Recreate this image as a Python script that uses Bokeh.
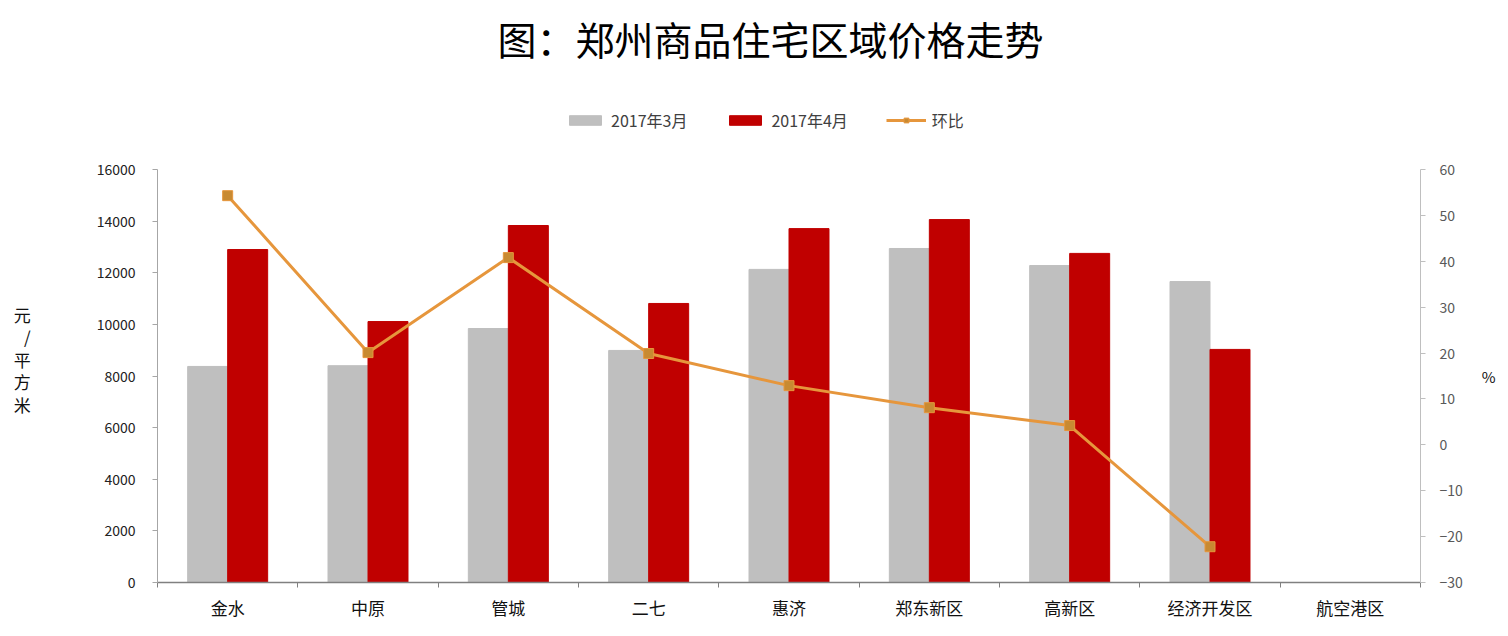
from bokeh.plotting import figure
from bokeh.models import (Range1d, LinearAxis, FixedTicker, Legend,
                          LegendItem, ColumnDataSource, Label)
from bokeh.embed import file_html
from bokeh.resources import INLINE

FONT = "Noto Sans CJK SC"

title_text = "图：郑州商品住宅区域价格走势"
districts = ["金水", "中原", "管城", "二七", "惠济", "郑东新区", "高新区", "经济开发区", "航空港区"]
price_mar = [8370, 8400, 9840, 8990, 12130, 12940, 12280, 11660]
price_apr = [12900, 10110, 13830, 10810, 13710, 14060, 12750, 9030]
mom_pct = [54.3, 20.1, 40.8, 19.9, 12.9, 8.1, 4.2, -22.2]
left_ticks = [0, 2000, 4000, 6000, 8000, 10000, 12000, 14000, 16000]
right_ticks = [-30, -20, -10, 0, 10, 20, 30, 40, 50, 60]

# layout (pixels): the frame reaches the top of the canvas so that title and
# legend can live inside it; the axes are bounded to their tick span
FRAME_TOP, AXIS_TOP, AXIS_BOTTOM = 0, 169, 582
extra = (AXIS_TOP - FRAME_TOP) / (AXIS_BOTTOM - AXIS_TOP)
L0, L1 = left_ticks[0], left_ticks[-1]
R0, R1 = right_ticks[0], right_ticks[-1]

n_cat = len(districts)
idx = list(range(len(price_mar)))
bar_w = 0.285
src = ColumnDataSource(dict(
    xm=[i - bar_w / 2 for i in idx],
    xa=[i + bar_w / 2 for i in idx],
    xc=idx,
    mar=price_mar,
    apr=price_apr,
    mom=mom_pct,
))

p = figure(width=1508, height=636, output_backend="svg", toolbar_location=None,
           x_range=Range1d(-0.5, n_cat - 0.5),
           y_range=Range1d(L0, L1 + (L1 - L0) * extra),
           min_border_left=157, min_border_right=88, min_border_top=FRAME_TOP,
           min_border_bottom=636 - AXIS_BOTTOM, outline_line_color=None)
p.title.visible = False
p.extra_y_ranges = {"pct": Range1d(R0, R1 + (R1 - R0) * extra)}
p.xgrid.visible = False
p.ygrid.visible = False
p.background_fill_color = "white"
p.border_fill_color = "white"

r_mar = p.vbar(x="xm", top="mar", width=bar_w, source=src, color="#BFBFBF")
r_apr = p.vbar(x="xa", top="apr", width=bar_w, source=src, color="#C00000")
r_line = p.line(x="xc", y="mom", source=src, y_range_name="pct",
                line_color="#E6963C", line_width=3)
r_pts = p.scatter(x="xc", y="mom", source=src, y_range_name="pct", marker="square",
                  size=10, fill_color="#C88A32", line_color="#E6963C")

# x axis
xa = p.xaxis[0]
xa.ticker = FixedTicker(ticks=list(range(n_cat)),
                        minor_ticks=[i - 0.5 for i in range(n_cat + 1)])
xa.major_label_overrides = {i: d for i, d in enumerate(districts)}
xa.major_tick_line_color = None
xa.minor_tick_out = 5
xa.minor_tick_in = 0
xa.minor_tick_line_color = "#808080"
xa.axis_line_color = "#808080"
xa.axis_line_width = 1.5
xa.major_label_text_font = FONT
xa.major_label_text_font_size = "17px"
xa.major_label_text_color = "#111111"
xa.major_label_standoff = 6

# left axis
ya = p.yaxis[0]
ya.ticker = FixedTicker(ticks=left_ticks)
ya.bounds = (L0, L1)
ya.axis_line_color = "#A6A6A6"
ya.major_tick_line_color = "#A6A6A6"
ya.major_tick_out = 5
ya.major_tick_in = 0
ya.minor_tick_line_color = None
ya.major_label_text_font = FONT
ya.major_label_text_font_size = "14px"
ya.major_label_text_color = "#222222"
ya.major_label_standoff = 17
ya.axis_label = " \n" * 6 + "元\n/\n平\n方\n米"
ya.axis_label_orientation = "horizontal"
ya.axis_label_text_font = FONT
ya.axis_label_text_font_size = "17px"
ya.axis_label_text_font_style = "normal"
ya.axis_label_text_color = "#111111"
ya.axis_label_text_line_height = 0.9
ya.axis_label_standoff = 63

# right axis
ra = LinearAxis(y_range_name="pct", ticker=FixedTicker(ticks=right_ticks))
ra.bounds = (R0, R1)
ra.axis_line_color = "#BFBFBF"
ra.major_tick_line_color = "#BFBFBF"
ra.major_tick_out = 5
ra.major_tick_in = 0
ra.minor_tick_line_color = None
ra.major_label_text_font = FONT
ra.major_label_text_font_size = "14px"
ra.major_label_text_color = "#595959"
ra.major_label_standoff = 14
ra.axis_label = " \n" * 7 + "%"
ra.axis_label_orientation = "horizontal"
ra.axis_label_text_font = FONT
ra.axis_label_text_font_size = "15px"
ra.axis_label_text_font_style = "normal"
ra.axis_label_text_color = "#111111"
ra.axis_label_text_line_height = 1.16
ra.axis_label_standoff = 16
p.add_layout(ra, "right")

# title (inside the tall frame, screen units from the frame's bottom-left)
p.add_layout(Label(x=613, y=AXIS_BOTTOM - 37, x_units="screen", y_units="screen",
                   text=title_text, text_font=FONT, text_font_size="39px",
                   text_color="#000000", text_align="center",
                   text_baseline="middle"))

legend = Legend(items=[
    LegendItem(label="2017年3月", renderers=[r_mar]),
    LegendItem(label="2017年4月", renderers=[r_apr]),
    LegendItem(label="环比", renderers=[r_line, r_pts]),
], orientation="horizontal", location=(408, 450), margin=0, padding=0,
    border_line_color=None, background_fill_alpha=0,
    glyph_width=40, glyph_height=12, label_standoff=6, spacing=38,
    label_text_font=FONT, label_text_font_size="16px",
    label_text_color="#404040")
p.add_layout(legend)

open("out.html", "w").write(file_html(p, INLINE))
